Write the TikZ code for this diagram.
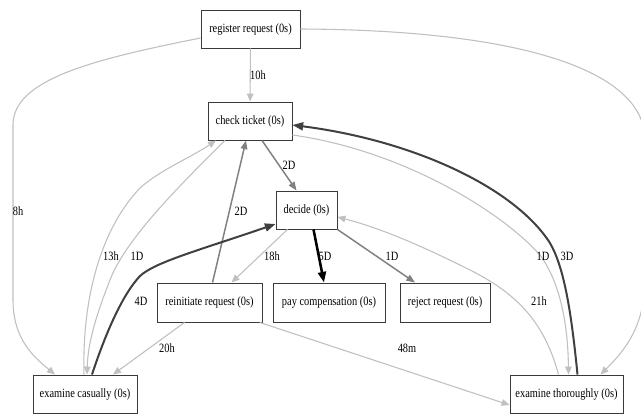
\documentclass[tikz,border=0pt]{standalone}
\usepackage{fontspec}
\setmainfont{Liberation Serif}[FakeStretch=0.82]
\usetikzlibrary{arrows.meta}

\definecolor{lightedge}{HTML}{C0C0C0}
\definecolor{midedge}{HTML}{808080}
\definecolor{darkedge}{HTML}{404040}
\definecolor{boxline}{HTML}{3A3A3A}

\begin{document}
\begin{tikzpicture}[x=0.75pt,y=-0.75pt,
  txt/.style={font=\fontsize{9.5}{11}\selectfont},
  act/.style={txt, draw=boxline, line width=0.7pt, inner sep=0pt,
              minimum height=28.5pt},
  lbl/.style={txt, inner sep=0pt},
  light/.style={draw=lightedge, line width=0.8pt,
                -{Triangle[length=6pt,width=5pt]}},
  mid/.style={draw=midedge, line width=1.1pt,
              -{Triangle[length=6.5pt,width=5pt]}},
  heavy/.style={draw=darkedge, line width=1.5pt,
                -{Triangle[length=8pt,width=6pt]}},
  heaviest/.style={draw=black, line width=1.9pt,
                   -{Triangle[length=8pt,width=6pt]}}]

\fill[white] (0,0) rectangle (641,414);
\useasboundingbox (0,0) rectangle (641,414);

% activities
\node[act, minimum width=74.25pt] (reg) at (250.5,29) {register request (0s)};
\node[act, minimum width=63pt]    (ct)  at (250,121) {check ticket (0s)};
\node[act, minimum width=45.75pt] (dec) at (306.5,210) {decide (0s)};
\node[act, minimum width=78.75pt, minimum height=29.25pt] (rei) at (209.5,302.5) {reinitiate request (0s)};
\node[act, minimum width=84pt,    minimum height=29.25pt] (pay) at (329,302.5) {pay compensation (0s)};
\node[act, minimum width=67.5pt,  minimum height=29.25pt] (rej) at (445,302.5) {reject request (0s)};
\node[act, minimum width=78pt]    (cas) at (85,394) {examine casually (0s)};
\node[act, minimum width=84.75pt] (tho) at (566.5,394) {examine thoroughly (0s)};

% edges out of register request
\draw[light] (reg) -- (ct);
\draw[light] ([yshift=-6.75pt]reg.west)
   .. controls (90,60) and (13,80) .. (13,125) -- (13,300)
   .. controls (13,340) and (35,358) .. ([xshift=-22.5pt]cas.north);
\draw[light] (reg.east)
   .. controls (520,30) and (645,70) .. (645,140) -- (645,280)
   .. controls (645,330) and (620,355) .. ([xshift=25.5pt]tho.north);

% edges out of check ticket
\draw[mid] ([xshift=9pt]ct.south) -- ([xshift=-7.5pt]dec.north);
\draw[light] ([xshift=-18.75pt]ct.south)
   .. controls (180,185) and (130,235) .. (112,275)
   .. controls (98,310) and (88,340) .. ([xshift=1.5pt]cas.north);
\draw[light] ([yshift=-10.5pt]ct.east)
   .. controls (400,150) and (500,210) .. (540,255)
   .. controls (562,285) and (568,330) .. ([xshift=1.5pt]tho.north);

% edges back into check ticket
\draw[light] ([xshift=-0.75pt]cas.north)
   .. controls (82,300) and (100,230) .. (140,188)
   .. controls (160,170) and (190,158) .. ([xshift=-25.5pt]ct.south);
\draw[mid] ([xshift=2.25pt]rei.north) -- ([xshift=-3pt]ct.south);
\draw[heavy] ([xshift=8.25pt]tho.north)
   .. controls (572,320) and (565,265) .. (548,240)
   .. controls (510,185) and (410,140) .. ([yshift=-3pt]ct.east);

% edges into decide
\draw[heavy] ([xshift=5.25pt]cas.north)
   .. controls (105,335) and (122,295) .. (140,276)
   .. controls (155,262) and (200,250) .. ([yshift=-10.5pt]dec.west);
\draw[light] ([xshift=-6pt]tho.north)
   .. controls (545,325) and (520,295) .. (470,270)
   .. controls (420,245) and (380,228) .. ([yshift=-5.25pt]dec.east);

% edges out of decide
\draw[light] ([xshift=-14.25pt]dec.south) -- ([xshift=16.5pt]rei.north);
\draw[heaviest] ([xshift=5.25pt]dec.south) -- ([xshift=-3.75pt]pay.north);
\draw[mid] (dec.south east) -- ([xshift=-22.5pt]rej.north);

% edges out of reinitiate request
\draw[light] ([xshift=-18.75pt]rei.south) -- ([xshift=21pt]cas.north);
\draw[light] ([xshift=-2pt]rei.south east) -- ([yshift=-8.25pt]tho.west);

% durations
\node[lbl] (l10h) at (258,75)  {10h};
\node[lbl] (l8h)  at (18,211)  {8h};
\node[lbl] (l2Da) at (289,165) {2D};
\node[lbl] (l2Db) at (241,211) {2D};
\node[lbl] (l13h) at (111,256) {13h};
\node[lbl] (l1Da) at (137,256) {1D};
\node[lbl] (l4D)  at (141,301) {4D};
\node[lbl] (l18h) at (272,256) {18h};
\node[lbl] (l5D)  at (325,256) {5D};
\node[lbl] (l1Db) at (392,256) {1D};
\node[lbl] (l1Dc) at (543,256) {1D};
\node[lbl] (l3D)  at (567,256) {3D};
\node[lbl] (l21h) at (539,301) {21h};
\node[lbl] (l20h) at (167,348) {20h};
\node[lbl] (l48m) at (407,348) {48m};
\end{tikzpicture}
\end{document}
